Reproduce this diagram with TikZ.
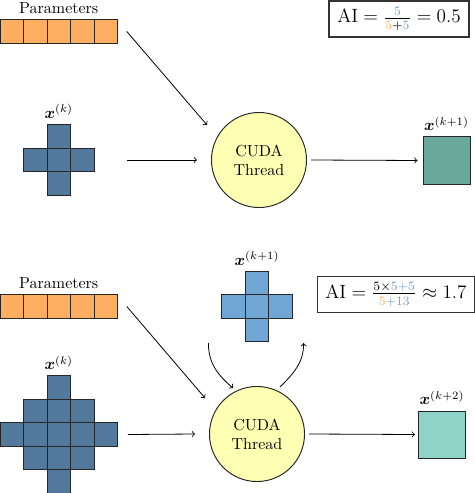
\documentclass[tikz,border=0pt]{standalone}
\usepackage{amsmath}
\usetikzlibrary{positioning,calc}

\definecolor{paramorange}{HTML}{FDAE61}
\definecolor{statedark}{HTML}{537A9C}
\definecolor{statelight}{HTML}{6FA6D3}
\definecolor{outteal}{HTML}{6AA89B}
\definecolor{outmint}{HTML}{8DD3C7}
\definecolor{threadyellow}{HTML}{FFFFB3}
\definecolor{aiblue}{HTML}{6F9FCB}

\begin{document}
\begin{tikzpicture}[
        x=0.625pt, y=-0.625pt,
        >=to,
    ]

    \tikzstyle{cell} = [rectangle, draw=black!85, line width=0.6pt, inner sep=0pt,
                        minimum size=14.69pt]
    \tikzstyle{group} = [rectangle, inner sep=0pt]
    \tikzstyle{thread} = [circle, draw=black!85, line width=0.6pt, fill=threadyellow,
                          minimum size=59.4pt, align=center, inner sep=0pt]
    \tikzstyle{outbox} = [rectangle, draw=black!85, line width=0.6pt, minimum size=29.4pt]
    \tikzstyle{aibox} = [rectangle, draw=black!80, line width=0.7pt, font=\large,
                         inner sep=1pt, minimum height=22.5pt]
    \tikzstyle{arr} = [->, line width=0.5pt]

    \useasboundingbox (0,0) rectangle (474,493);

    % Top: one step
    \node[group, minimum width=73.4pt, minimum height=14.69pt] (params1) at (58.75,31.5) {};
    \foreach \i in {0,...,4}
        \node[cell, fill=paramorange] at (11.75+23.5*\i,31.5) {};
    \node[above=0pt of params1] (plabel1) {Parameters};

    \node[group, minimum size=44.1pt] (cross1) at (58.75,160) {};
    \foreach \dx/\dy in {0/-1,-1/0,0/0,1/0,0/1}
        \node[cell, fill=statedark] at ($(cross1)+(23.5*\dx,23.5*\dy)$) {};
    \node[above=0pt of cross1] (xlabel1) {$\boldsymbol{x}^{(k)}$};

    \node[thread] (cuda1) at (259,160) {CUDA\\Thread};

    \node[outbox, fill=outteal] (out1) at (446.5,160.5) {};
    \node[above=0pt of out1] (olabel1) {$\boldsymbol{x}^{(k+1)}$};

    \node[aibox, minimum width=87.5pt] (ai1) at (399,19)
        {$\mathrm{AI} = \frac{\textcolor{aiblue}{5}}{\textcolor{paramorange}{5}+\textcolor{aiblue}{5}} = 0.5$};

    \draw[arr] ($(params1.east)+(9,0)$) -- ($(cuda1.center)+(-52,-35)$);
    \draw[arr] ($(cross1.east)+(33,0)$) -- ($(cuda1.west)+(-14,0)$);
    \draw[arr] ($(cuda1.east)+(4,0)$) -- ($(out1.west)+(-5,0)$);

    % Bottom: two fused steps
    \node[group, minimum width=73.4pt, minimum height=14.69pt] (params2) at (58.75,306.5) {};
    \foreach \i in {0,...,4}
        \node[cell, fill=paramorange] at (11.75+23.5*\i,306.5) {};
    \node[above=0pt of params2] (plabel2) {Parameters};

    \node[group, minimum size=73.4pt] (diamond) at (58.75,434.5) {};
    \foreach \dy/\w in {-2/0,-1/1,0/2,1/1,2/0}
        \foreach \dx in {-\w,...,\w}
            \node[cell, fill=statedark] at ($(diamond)+(23.5*\dx,23.5*\dy)$) {};
    \node[above=0pt of diamond] (xlabel2) {$\boldsymbol{x}^{(k)}$};

    \node[thread] (cuda2) at (257,434) {CUDA\\Thread};

    \node[group, minimum size=44.1pt] (cross2) at (257,306.5) {};
    \foreach \dx/\dy in {0/-1,-1/0,0/0,1/0,0/1}
        \node[cell, fill=statelight] at ($(cross2)+(23.5*\dx,23.5*\dy)$) {};
    \node[above=0pt of cross2] (mlabel) {$\boldsymbol{x}^{(k+1)}$};

    \node[outbox, fill=outmint] (out2) at (442,434.5) {};
    \node[above=0pt of out2] (olabel2) {$\boldsymbol{x}^{(k+2)}$};

    \node[aibox, minimum width=98pt, anchor=west] (ai2) at (317,294.5)
        {$\mathrm{AI} = \frac{5\times\textcolor{aiblue}{5+5}}{\textcolor{paramorange}{5}\textcolor{aiblue}{+13}} \approx 1.7$};

    \draw[arr] ($(params2.east)+(9,0)$) -- ($(cuda2.center)+(-52,-36)$);
    \draw[arr] ($(diamond.east)+(10,0)$) -- ($(cuda2.west)+(-14,0)$);
    \draw[arr] ($(cuda2.east)+(4,0)$) -- ($(out2.west)+(-3,0)$);

    % Curved arrows through the shared state
    \draw[arr] ($(cross2.south west)+(-13,1)$) to[out=-90, in=140] ($(cuda2.center)+(-24,-46)$);
    \draw[arr] ($(cuda2.center)+(23,-47)$) to[out=45, in=-90] ($(cross2.south east)+(11,1)$);

\end{tikzpicture}
\end{document}
